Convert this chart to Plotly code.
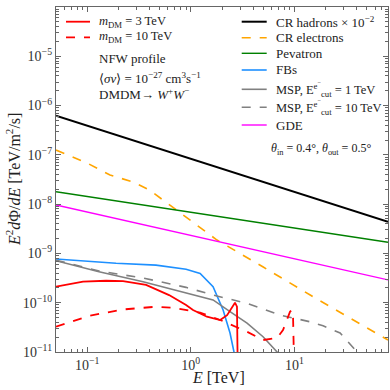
import plotly.graph_objects as go

# ---------------- data ----------------
E_hadrons = [0.05, 80]
F_hadrons = [6.2e-7, 4.4e-9]

E_pevatron = [0.05, 80]
F_pevatron = [1.78e-8, 1.68e-9]

E_gde = [0.05, 80]
F_gde = [9.6e-9, 2.9e-10]

E_electrons = [0.05, 0.1, 0.166, 0.28, 0.4, 0.54, 0.79, 0.98, 1.79, 5.0, 14.2, 80]
F_electrons = [1.25e-7, 6.8e-8, 3.9e-8, 2.8e-8, 1.93e-8, 1.21e-8, 6.6e-9, 4.8e-9,
               1.87e-9, 5.3e-10, 1.43e-10, 1.75e-11]

E_fbs = [0.05, 0.19, 0.461, 0.90, 1.23, 1.64, 2.05, 2.39, 2.61, 2.7]
F_fbs = [7.7e-10, 6.3e-10, 5.8e-10, 4.76e-10, 3.94e-10, 2.11e-10, 7.1e-11, 2.43e-11, 1.0e-11, 7e-12]

E_msp1 = [0.05, 0.130, 0.346, 0.90, 1.64, 2.39, 3.49, 4.98, 6.79, 7.5]
F_msp1 = [7.1e-10, 4.26e-10, 2.67e-10, 1.55e-10, 1.14e-10, 6.6e-11, 3.87e-11, 2.04e-11, 1.0e-11, 8e-12]

E_msp10 = [0.05, 0.130, 0.346, 0.90, 1.64, 3.49, 7.27, 14.2, 18.9, 27.6, 40.3, 44]
F_msp10 = [7.3e-10, 4.4e-10, 3.17e-10, 2.05e-10, 1.43e-10, 9.7e-11, 5.6e-11, 4.1e-11,
           3.4e-11, 2.43e-11, 1.0e-11, 8e-12]

E_dm3 = [0.05, 0.0912, 0.152, 0.222, 0.370, 0.617, 0.90, 1.05, 1.43, 1.92, 2.24,
         2.50, 2.67, 2.79, 2.86]
F_dm3 = [2.11e-10, 2.67e-10, 2.79e-10, 2.75e-10, 2.29e-10, 1.43e-10, 8.97e-11, 7.1e-11,
         5.2e-11, 4.46e-11, 5.6e-11, 8.3e-11, 1.0e-10, 8.3e-11, 1e-12]

E_dm10 = [0.05, 0.104, 0.222, 0.461, 0.673, 0.90, 1.23, 1.92, 3.49, 4.98, 6.79, 7.76,
          9.08, 9.49, 9.70, 10.1]
F_dm10 = [3.26e-11, 5.4e-11, 7.3e-11, 8.3e-11, 7.9e-11, 7.1e-11, 6.3e-11, 4.46e-11,
          2.58e-11, 1.75e-11, 1.92e-11, 2.79e-11, 6.6e-11, 7.1e-11, 5.2e-11, 1e-12]

x_major = [0.1, 1, 10]
x_major_text = ["10<sup>−1</sup>", "10<sup>0</sup>", "10<sup>1</sup>"]
y_major = [1e-11, 1e-10, 1e-9, 1e-8, 1e-7, 1e-6, 1e-5, 1e-4]
y_major_text = ["10<sup>−11</sup>", "10<sup>−10</sup>", "10<sup>−9</sup>", "10<sup>−8</sup>",
                "10<sup>−7</sup>", "10<sup>−6</sup>", "10<sup>−5</sup>", "10<sup>−4</sup>"]

# ---------------- figure ----------------
FONT = "Liberation Serif"
fig = go.Figure()

series = [
    (E_hadrons, F_hadrons, "black", "solid", 2.0),
    (E_electrons, F_electrons, "#ffa500", "dash", 1.6),
    (E_pevatron, F_pevatron, "#008000", "solid", 1.4),
    (E_fbs, F_fbs, "#1e90ff", "solid", 1.6),
    (E_msp1, F_msp1, "#808080", "solid", 1.6),
    (E_msp10, F_msp10, "#808080", "dash", 1.6),
    (E_gde, F_gde, "#ff00ff", "solid", 1.4),
    (E_dm3, F_dm3, "#ff0000", "solid", 1.8),
    (E_dm10, F_dm10, "#ff0000", "dash", 1.8),
]
for ex, fy, col, dash, w in series:
    fig.add_trace(go.Scatter(x=ex, y=fy, mode="lines", showlegend=False,
                             line=dict(color=col, dash=dash, width=w)))

x_minor = [v * m for v in (0.01, 0.1, 1, 10) for m in range(2, 10)]
x_minor = [v for v in x_minor if 0.05 < v < 80]
y_minor = [10.0 ** e * m for e in range(-11, -4) for m in range(2, 10)]

axcol = "#666666"
fig.update_xaxes(type="log", range=[-1.30103, 1.90309], tickvals=x_major, ticktext=x_major_text,
                 ticks="inside", ticklen=5, tickcolor=axcol, showline=True, linecolor=axcol,
                 linewidth=1.3, mirror="allticks", showgrid=False, zeroline=False,
                 tickfont=dict(family=FONT, size=14, color="#333"),
                 minor=dict(tickvals=x_minor, ticks="inside", ticklen=3, tickcolor=axcol))
fig.update_yaxes(type="log", range=[-11, -4], tickvals=y_major, ticktext=y_major_text,
                 ticks="inside", ticklen=5, tickcolor=axcol, showline=True, linecolor=axcol,
                 linewidth=1.3, mirror="allticks", showgrid=False, zeroline=False,
                 tickfont=dict(family=FONT, size=14, color="#333"),
                 minor=dict(tickvals=y_minor, ticks="inside", ticklen=3, tickcolor=axcol))

W, H = 390, 390
L, R, T, B = 56, 388, 7, 352


def px(xp):
    return (xp - L) / (R - L)


def py(yp):
    return (B - yp) / (B - T)


shapes = []
annots = []

# left legend (dark matter)
for yy, dash, label in [(21.7, "solid", "<i>m</i><sub>DM</sub> = 3 TeV"),
                        (37.3, "dash", "<i>m</i><sub>DM</sub> = 10 TeV")]:
    shapes.append(dict(type="line", xref="paper", yref="paper", x0=px(66), x1=px(90),
                       y0=py(yy), y1=py(yy), line=dict(color="#ff0000", width=1.8, dash=dash)))
    annots.append(dict(x=px(97), y=py(yy), text=label, size=12.5))
for yy, label in [(59, "NFW profile"),
                  (78, "⟨<i>σv</i>⟩ = 10<sup>−27</sup> cm<sup>3</sup>s<sup>−1</sup>"),
                  (94, "DMDM→ <i>W</i><sup>+</sup><i>W</i><sup>−</sup>")]:
    annots.append(dict(x=px(97), y=py(yy), text=label, size=13))

# right legend (backgrounds)
leg = [
    (21.7, "black", "solid", 2.0, "CR hadrons × 10<sup>−2</sup>", 13),
    (37.7, "#ffa500", "dash", 1.6, "CR electrons", 13),
    (53.3, "#008000", "solid", 1.4, "Pevatron", 13),
    (70.0, "#1e90ff", "solid", 1.6, "FBs", 13),
    (89.3, "#808080", "solid", 1.6, "MSP, E<sup>e<sup>−</sup></sup><sub>cut</sub> = 1 TeV", 12.5),
    (107.3, "#808080", "dash", 1.6, "MSP, E<sup>e<sup>−</sup></sup><sub>cut</sub> = 10 TeV", 12.5),
    (125.0, "#ff00ff", "solid", 1.4, "GDE", 13),
]
for yy, col, dash, w, label, fs in leg:
    shapes.append(dict(type="line", xref="paper", yref="paper", x0=px(241.7), x1=px(266.7),
                       y0=py(yy), y1=py(yy), line=dict(color=col, width=w, dash=dash)))
    annots.append(dict(x=px(274), y=py(yy), text=label, size=fs))

for a in annots:
    fs = a.pop("size")
    a.update(xref="paper", yref="paper", xanchor="left", yanchor="middle", showarrow=False,
             font=dict(family=FONT, size=fs, color="#222"))

annots.append(dict(x=px(373), y=py(149), xref="paper", yref="paper", xanchor="right",
                   yanchor="middle", showarrow=False,
                   text="<i>θ</i><sub>in</sub> = 0.4°, <i>θ</i><sub>out</sub> = 0.5°",
                   font=dict(family=FONT, size=12, color="#222")))

# axis titles
annots.append(dict(x=px(218), y=py(377), xref="paper", yref="paper", xanchor="center",
                   yanchor="middle", showarrow=False, text="<i>E</i> [TeV]",
                   font=dict(family=FONT, size=16, color="#222")))
annots.append(dict(x=px(13), y=py(180), xref="paper", yref="paper", xanchor="center",
                   yanchor="middle", showarrow=False, textangle=-90,
                   text="<i>E</i><sup>2</sup><i>d</i>Φ/<i>dE</i> [TeV/m<sup>2</sup>/s]",
                   font=dict(family=FONT, size=16, color="#222")))

fig.update_layout(width=W, height=H, margin=dict(l=L, r=W - R, t=T, b=H - B),
                  plot_bgcolor="white", paper_bgcolor="white",
                  shapes=shapes, annotations=annots, showlegend=False)

fig.write_html("out.html", config={"displayModeBar": False},
               post_script="document.body.style.margin='0';document.body.style.padding='0';")
